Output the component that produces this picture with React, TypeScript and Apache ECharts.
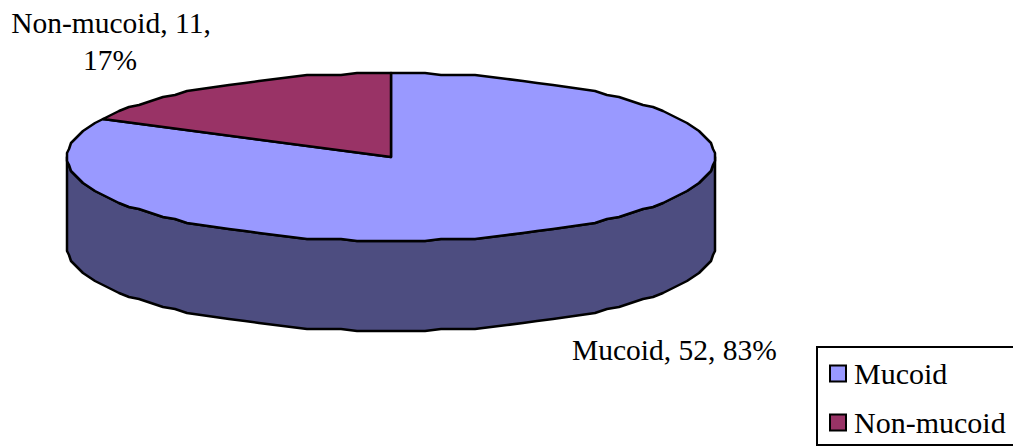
import React, { useEffect, useRef } from "react";
import * as echarts from "echarts";

const categories = ["Mucoid", "Non-mucoid"];
const counts = [52, 11];
const percentLabels = ["83%", "17%"];
const topColors = ["#9999FF", "#993366"];
const sideColors = ["#4D4D80", "#4D1A33"];

const total = counts.reduce((a, b) => a + b, 0);
const FONT = '"Liberation Serif", "Times New Roman", serif';
const FONT_SIZE = 29.5;

// Disc geometry of the tilted pie.
const cx = 391;
const cy = 157;
const rx = 323.5;
const ry = 84;
const depth = 90;
const GRID = 2;
const STEP = 3;
const OUTLINE = 2.5;

// The outline is slightly quantised, like a low-resolution vector export.
const snap = (v: number, origin: number) => origin + Math.round((v - origin) / GRID) * GRID;

// Point on the rim; the angle is measured clockwise from 12 o'clock.
function rim(deg: number, drop = 0): number[] {
  const a = (deg * Math.PI) / 180;
  return [snap(cx + rx * Math.sin(a), cx), snap(cy - ry * Math.cos(a), cy) + drop];
}

// Samples on a fixed angular lattice so that adjoining shapes share their vertices.
function arc(from: number, to: number, drop = 0): number[][] {
  const out: number[][] = [rim(from, drop)];
  for (let d = Math.floor(from / STEP + 1) * STEP; d < to; d += STEP) out.push(rim(d, drop));
  out.push(rim(to, drop));
  return out;
}

function sliceRange(index: number): [number, number] {
  const before = counts.slice(0, index).reduce((a, b) => a + b, 0);
  return [(before / total) * 360, ((before + counts[index]) / total) * 360];
}

const labelPlacement = [
  [{ x: 572, y: 350, align: "left" }],
  [
    { x: 111, y: 23, align: "center" },
    { x: 110, y: 60, align: "center" },
  ],
];
const labelLines = [
  [`${categories[0]}, ${counts[0]}, ${percentLabels[0]}`],
  [`${categories[1]}, ${counts[1]},`, percentLabels[1]],
];

function renderSlice(index: number) {
  return () => {
    const [start, end] = sliceRange(index);
    const children: any[] = [];
    // Only the part of the rim facing the viewer has a visible wall.
    const wallFrom = Math.max(start, 90);
    const wallTo = Math.min(end, 270);
    if (wallTo > wallFrom) {
      children.push({
        type: "polygon",
        shape: {
          points: [...arc(wallFrom, wallTo), ...arc(wallFrom, wallTo, depth).reverse()],
        },
        style: { fill: sideColors[index], stroke: "#000", lineWidth: OUTLINE, lineJoin: "round" },
      });
    }
    children.push({
      type: "polygon",
      shape: { points: [[cx, cy], ...arc(start, end)] },
      style: { fill: topColors[index], stroke: "#000", lineWidth: OUTLINE, lineJoin: "round" },
    });
    labelLines[index].forEach((text, i) => {
      const p = labelPlacement[index][i];
      children.push({
        type: "text",
        style: {
          text,
          x: p.x,
          y: p.y,
          textAlign: p.align,
          textVerticalAlign: "middle",
          font: `${FONT_SIZE}px ${FONT}`,
          fill: "#000",
        },
      });
    });
    return { type: "group", children };
  };
}

export default function App() {
  const ref = useRef<HTMLDivElement>(null);
  useEffect(() => {
    const chart = echarts.init(ref.current!, undefined, { renderer: "svg" });
    chart.setOption({
      animation: false,
      backgroundColor: "#fff",
      legend: {
        left: 817,
        top: 347,
        orient: "vertical",
        data: categories,
        icon: "rect",
        itemWidth: 16,
        itemHeight: 16,
        itemGap: 16,
        padding: [10, 20, 6, 12],
        borderColor: "#000",
        borderWidth: 2,
        selectedMode: false,
        itemStyle: { borderColor: "#000", borderWidth: 2 },
        textStyle: {
          fontFamily: FONT,
          fontSize: 30,
          lineHeight: 33,
          color: "#000",
          padding: [0, 0, 0, 3],
        },
      },
      series: categories.map((name, i) => ({
        type: "custom",
        name,
        coordinateSystem: "none",
        silent: true,
        itemStyle: { color: topColors[i] },
        data: [[counts[i]]],
        renderItem: renderSlice(i),
      })),
    });
    return () => chart.dispose();
  }, []);
  return (
    <div
      ref={ref}
      style={{ position: "absolute", left: 0, top: 0, width: 1013, height: 447 }}
    />
  );
}
